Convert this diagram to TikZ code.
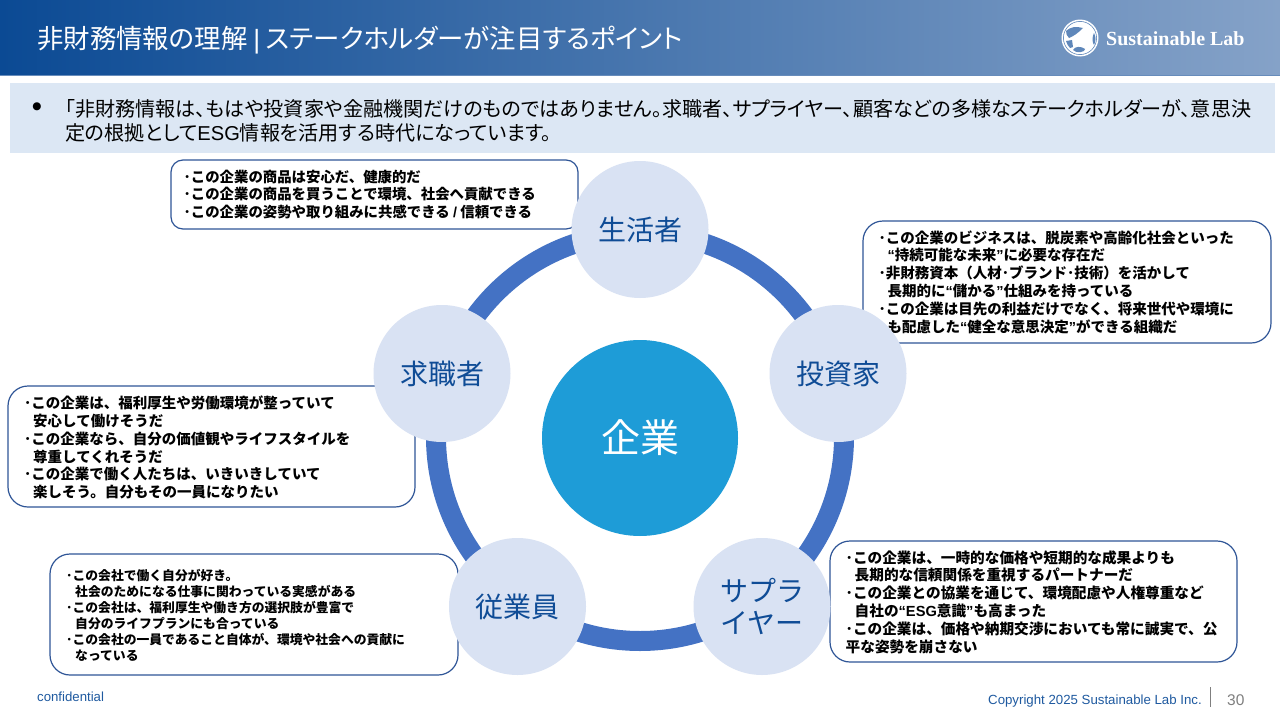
\documentclass[tikz,border=0pt]{standalone}
\usepackage{fontspec}
\usetikzlibrary{shapes.geometric}
\setmainfont{Liberation Sans}
\newfontfamily\jp[RawFeature={+palt}]{Noto Sans CJK JP}
\newfontfamily\jq{Noto Sans CJK JP}
\newfontfamily\lfont{Liberation Sans}
\newfontfamily\sfont{Liberation Serif}
\newfontfamily\dvfont{DejaVu Sans}
\newcommand{\lat}[1]{{\lfont #1}}
\newcommand{\ind}{\hspace*{9pt}}
\definecolor{hdrL}{HTML}{0B4A94}
\definecolor{hdrR}{HTML}{85A2C8}
\definecolor{band}{HTML}{DCE7F4}
\definecolor{ringc}{HTML}{4472C4}
\definecolor{nodec}{HTML}{D9E2F3}
\definecolor{corec}{HTML}{1E9CD7}
\definecolor{labc}{HTML}{0F4C96}
\definecolor{boxc}{HTML}{2F5597}
\definecolor{footc}{HTML}{1F5AA0}
\definecolor{numc}{HTML}{7F7F7F}
\definecolor{logoc}{HTML}{5F87BA}
\tikzset{
  actor/.style={circle,fill=nodec,minimum size=137pt,inner sep=0pt,align=center,text=labc,
    font=\jq\fontsize{28}{32}\selectfont},
  bubble/.style={draw=boxc,line width=1.2pt,fill=white,rounded corners=20pt},
  saying/.style={anchor=west,align=left,inner sep=0pt,text=black,
    font=\jq\bfseries\fontsize{14.5}{17.8}\selectfont},
}
\begin{document}
\begin{tikzpicture}[x=1pt,y=-1pt]
\useasboundingbox (0,0) rectangle (1280,720);
\fill[white] (0,0) rectangle (1280,720);
% header
\shade[left color=hdrL,right color=hdrR] (0,0) rectangle (1280,75);
\fill[hdrL!25!hdrR] (0,75) rectangle (1280,76);
\node[anchor=west,inner sep=0pt,text=white,font=\jp\fontsize{26.4}{30}\selectfont] (title) at (37,40.5)
  {非財務情報の理解 \lat{|} ステークホルダーが注目するポイント};
% logo
\fill[white] (1080,38) circle [radius=18.5];
\draw[logoc,line width=0.6pt] (1080,38) circle [radius=16.6];
\fill[logoc] (1066,31) .. controls (1070,27) and (1076,26) .. (1083,28) .. controls (1078,33) and (1074,36) .. (1069,38) .. controls (1067,36) and (1066,34) .. (1066,31) -- cycle;
\fill[logoc] (1066,41) -- (1072,40) -- (1073,47) -- (1070,48) .. controls (1068,46) and (1067,44) .. (1066,41) -- cycle;
\fill[logoc] (1073,50) .. controls (1075,46) and (1081,46) .. (1085,49) .. controls (1086,52) and (1076,54) .. (1073,50) -- cycle;
\fill[logoc] (1094,33) .. controls (1096,37) and (1096,41) .. (1094,45) .. controls (1092,42) and (1092,37) .. (1094,33) -- cycle;
\node[anchor=west,inner sep=0pt,text=white,font=\sfont\bfseries\fontsize{20}{24}\selectfont] (logotext) at (1106,38.5) {Sustainable Lab};
% lead band
\fill[band] (10,83) rectangle (1275,153);
\node[inner sep=0pt,text=black,font=\dvfont\fontsize{10.5}{15}\selectfont] (dot) at (37,107) {●};
\node[anchor=north west,inner sep=0pt,align=left,text=black,font=\jp\fontsize{20.1}{24}\selectfont] (lead) at (65,99)
  {「非財務情報は、もはや投資家や金融機関だけのものではありません。求職者、サプライヤー、顧客などの多様なステークホルダーが、意思決\\
   定の根拠として\lat{ESG}情報を活用する時代になっています。};
% ring
\node[circle,draw=ringc,line width=20pt,minimum size=408pt,inner sep=0pt] (ring) at (640,437) {};
% speech boxes
\draw[bubble,rounded corners=12pt] (171,160) rectangle (578,229);
\draw[bubble] (863,221) rectangle (1271,343);
\draw[bubble] (8,386) rectangle (415,507);
\draw[bubble] (50,554) rectangle (458,675);
\draw[bubble] (830,541) rectangle (1237,662);
\node[saying,font=\jq\bfseries\fontsize{14.4}{17.8}\selectfont] (s1) at (183.5,194.5) {･この企業の商品は安心だ、健康的だ\\･この企業の商品を買うことで環境、社会へ貢献できる\\･この企業の姿勢や取り組みに共感できる \lat{/} 信頼できる};
\node[saying] (s2) at (878.5,282) {･この企業のビジネスは、脱炭素や高齢化社会といった\\\ind\lat{“}持続可能な未来\lat{”}に必要な存在だ\\･非財務資本（人材･ブランド･技術）を活かして\\\ind 長期的に\lat{“}儲かる\lat{”}仕組みを持っている\\･この企業は目先の利益だけでなく、将来世代や環境に\\\ind も配慮した\lat{“}健全な意思決定\lat{”}ができる組織だ};
\node[saying] (s3) at (24,447.5) {･この企業は、福利厚生や労働環境が整っていて\\\ind 安心して働けそうだ\\･この企業なら、自分の価値観やライフスタイルを\\\ind 尊重してくれそうだ\\･この企業で働く人たちは、いきいきしていて\\\ind 楽しそう。自分もその一員になりたい};
\node[saying,font=\jq\bfseries\fontsize{12.8}{16}\selectfont] (s4) at (66,615.5) {･この会社で働く自分が好き。\\\ind 社会のためになる仕事に関わっている実感がある\\･この会社は、福利厚生や働き方の選択肢が豊富で\\\ind 自分のライフプランにも合っている\\･この会社の一員であること自体が、環境や社会への貢献に\\\ind なっている};
\node[saying,font=\jq\bfseries\fontsize{14.65}{17.8}\selectfont] (s5) at (845.5,602) {･この企業は、一時的な価格や短期的な成果よりも\\\ind 長期的な信頼関係を重視するパートナーだ\\･この企業との協業を通じて、環境配慮や人権尊重など\\\ind 自社の\lat{“ESG}意識\lat{”}も高まった\\･この企業は、価格や納期交渉においても常に誠実で、公\\平な姿勢を崩さない};
% actors
\node[actor] (consumer) at (640,229.5) {生活者};
\node[actor] (investor) at (838,373.5) {投資家};
\node[actor] (supplier) at (762,606.5) {サプラ\\イヤー};
\node[actor] (employee) at (517.5,606.5) {従業員};
\node[actor] (seeker) at (442,373.5) {求職者};
\node[circle,fill=corec,minimum size=196pt,inner sep=0pt,text=white,font=\jq\fontsize{39}{44}\selectfont] (firm) at (640,438) {企業};
% footer
\node[anchor=west,inner sep=0pt,text=footc,font=\fontsize{13.2}{15}\selectfont] (conf) at (37,697) {confidential};
\node[anchor=east,inner sep=0pt,text=footc,font=\fontsize{13.25}{15}\selectfont] (copy) at (1202,701) {Copyright 2025 Sustainable Lab Inc.};
\coordinate (barT) at (1210,687);
\coordinate (barB) at (1210,707);
\draw[numc,line width=1pt] (barT) -- (barB);
\node[anchor=west,inner sep=0pt,text=numc,font=\fontsize{15.5}{18}\selectfont] (page) at (1227,700) {30};
\end{tikzpicture}
\end{document}
